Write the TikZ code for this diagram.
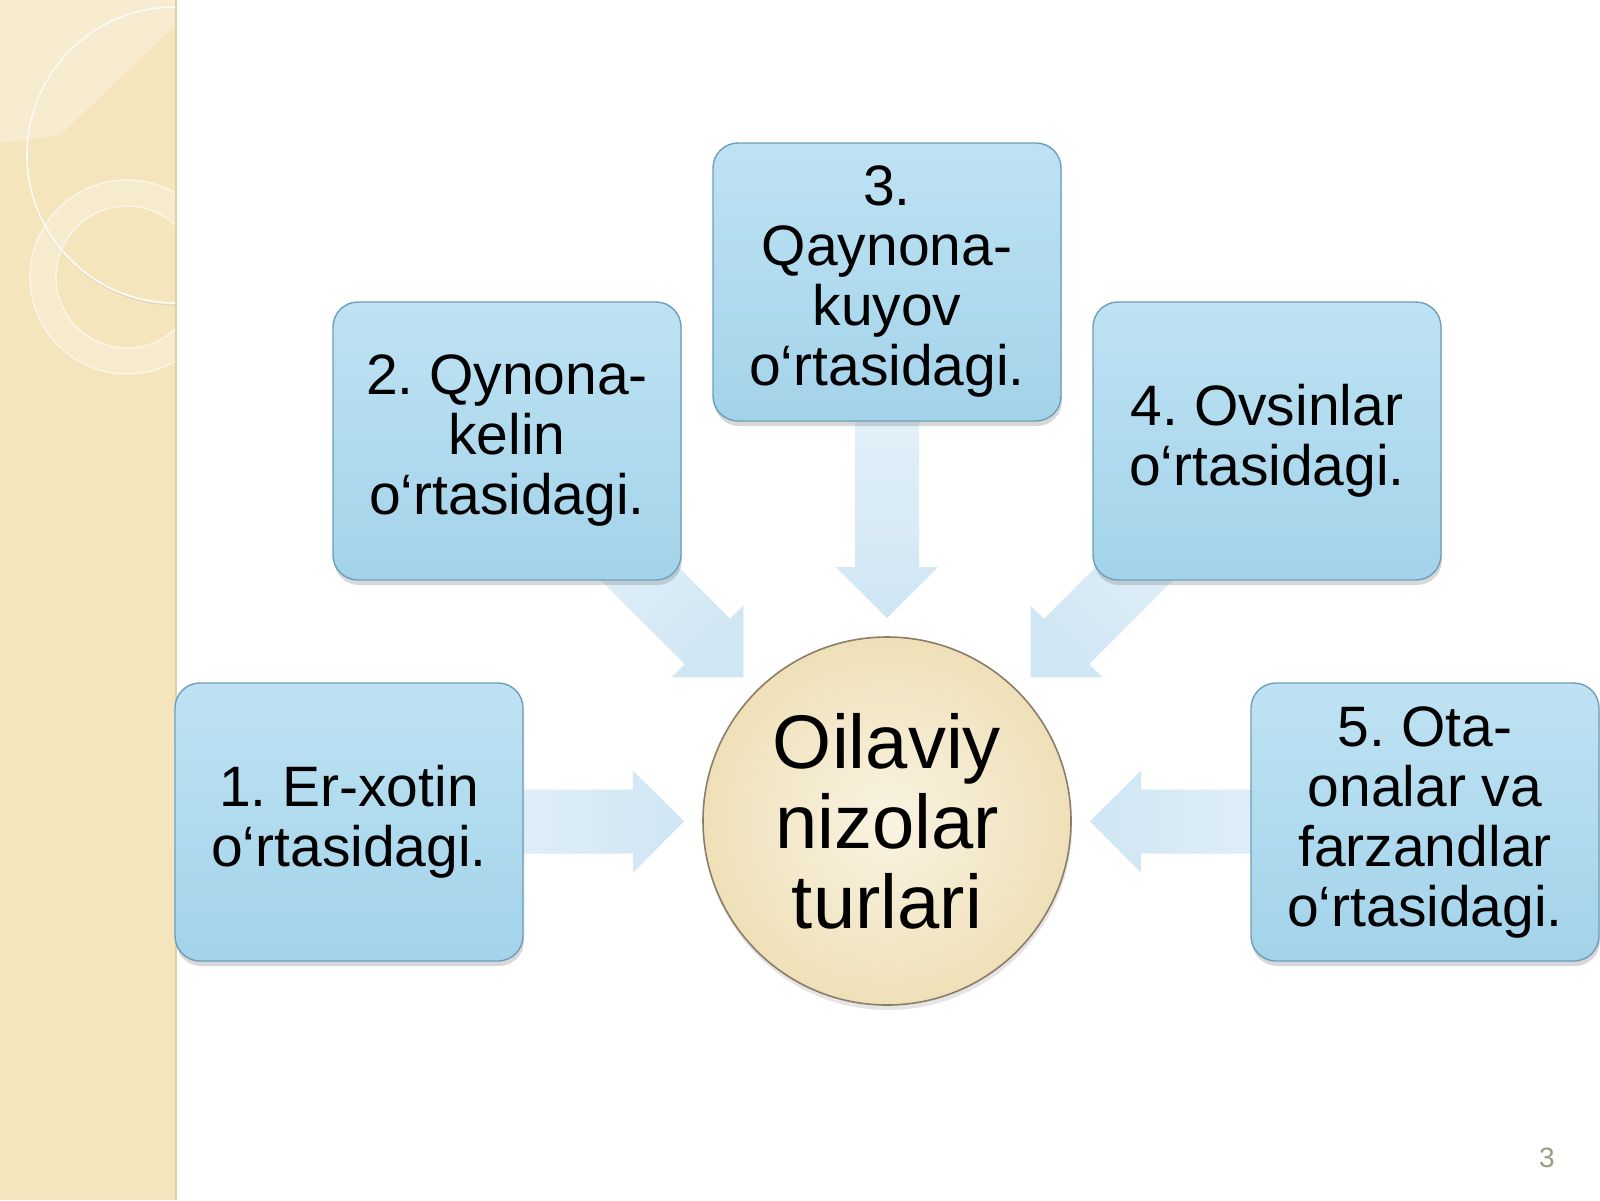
\documentclass[tikz,border=0pt]{standalone}
\usepackage{fontspec}
\setmainfont{Liberation Sans}
\usetikzlibrary{calc,shadows}
\frenchspacing
\definecolor{sidebar}{HTML}{F4E5BD}
\definecolor{sideedge}{HTML}{E0CFA4}
\definecolor{arrtail}{HTML}{E2F0F9}
\definecolor{arrhead}{HTML}{CFE6F3}
\definecolor{boxtop}{HTML}{BEE2F3}
\definecolor{boxbot}{HTML}{A3D3EA}
\definecolor{boxline}{HTML}{6E9FBA}
\definecolor{hubin}{HTML}{F9F3E2}
\definecolor{hubout}{HTML}{EFE0B8}
\definecolor{hubline}{HTML}{8A7D6A}
\definecolor{pagenum}{HTML}{9C9C80}
\pgfdeclarelayer{back}
\pgfdeclarelayer{arrows}
\pgfsetlayers{back,arrows,main}
\newcommand{\blockarrow}[2]{%
  \coordinate (T) at ($(hub.center)!101.5pt!(#1.center)$);
  \coordinate (S) at ($(hub.center)!205pt!(#1.center)$);
  \coordinate (H) at ($(T)!25.5pt!(S)$);
  \shade[top color=arrtail, bottom color=arrhead, shading angle=#2]
    ($(S)!16pt!90:(T)$) -- ($(H)!16pt!90:(T)$) -- ($(H)!25.5pt!90:(T)$) -- (T)
    -- ($(H)!25.5pt!-90:(T)$) -- ($(H)!16pt!-90:(T)$) -- ($(S)!16pt!-90:(T)$) -- cycle;
}
\begin{document}
\begin{tikzpicture}[x=0.5pt,y=-0.5pt,
  box/.style={rounded corners=12.5pt, draw=boxline, line width=0.7pt,
    top color=boxtop, bottom color=boxbot,
    minimum width=174pt, minimum height=139pt, inner sep=0pt, align=center,
    font=\fontsize{28.5}{30}\selectfont,
    drop shadow={shadow xshift=0.5pt, shadow yshift=-2.5pt, opacity=0.3}},
  hub/.style={circle, draw=hubline, line width=0.8pt, inner color=hubin, outer color=hubout,
    minimum size=184pt, inner sep=0pt, align=center,
    font=\fontsize{38}{40}\selectfont,
    drop shadow={shadow xshift=0.5pt, shadow yshift=-2.5pt, opacity=0.2}}]
\useasboundingbox (0,0) rectangle (1600,1200);
% slide background and sidebar
\begin{pgfonlayer}{back}
  \fill[white] (0,0) rectangle (1600,1200);
  \fill[sidebar] (0,0) rectangle (176,1200);
  \begin{scope}
    \clip (0,0) rectangle (176,1200);
    \fill[white, opacity=0.3] (0,0) -- (176,0) -- (176,25) -- (60,135) -- (0,143) -- cycle;
    \fill[white, opacity=0.25, even odd rule] (127,277) circle[radius=97] (127,277) circle[radius=71];
    \draw[white, opacity=0.7, line width=0.6pt] (127,277) circle[radius=97];
    \draw[white, opacity=0.7, line width=0.6pt] (127,277) circle[radius=71];
    \draw[black!25, opacity=0.4, line width=0.5pt] (176,156) circle[radius=149];
    \draw[white, opacity=0.9, line width=0.8pt] (175,155) circle[radius=148];
  \end{scope}
  \draw[sideedge, line width=0.8pt] (176,0) -- (176,1200);
\end{pgfonlayer}
% nodes
\node[hub] (hub) at (887,821) {Oilaviy\\nizolar\\turlari};
\node[box] (b1) at (349,822) {1. Er-xotin\\o‘rtasidagi.};
\node[box] (b2) at (507,441) {2. Qynona-\\kelin\\o‘rtasidagi.};
\node[box] (b3) at (887,282) {3.\\Qaynona-\\kuyov\\o‘rtasidagi.};
\node[box] (b4) at (1267,441) {4. Ovsinlar\\o‘rtasidagi.};
\node[box] (b5) at (1425,822) {5. Ota-\\onalar va\\farzandlar\\o‘rtasidagi.};
% block arrows
\begin{pgfonlayer}{arrows}
  \blockarrow{b1}{90}
  \blockarrow{b2}{45}
  \blockarrow{b3}{0}
  \blockarrow{b4}{-45}
  \blockarrow{b5}{-90}
\end{pgfonlayer}
\node[text=pagenum, font=\fontsize{14}{16}\selectfont] (pg) at (1547,1158) {3};
\end{tikzpicture}
\end{document}
